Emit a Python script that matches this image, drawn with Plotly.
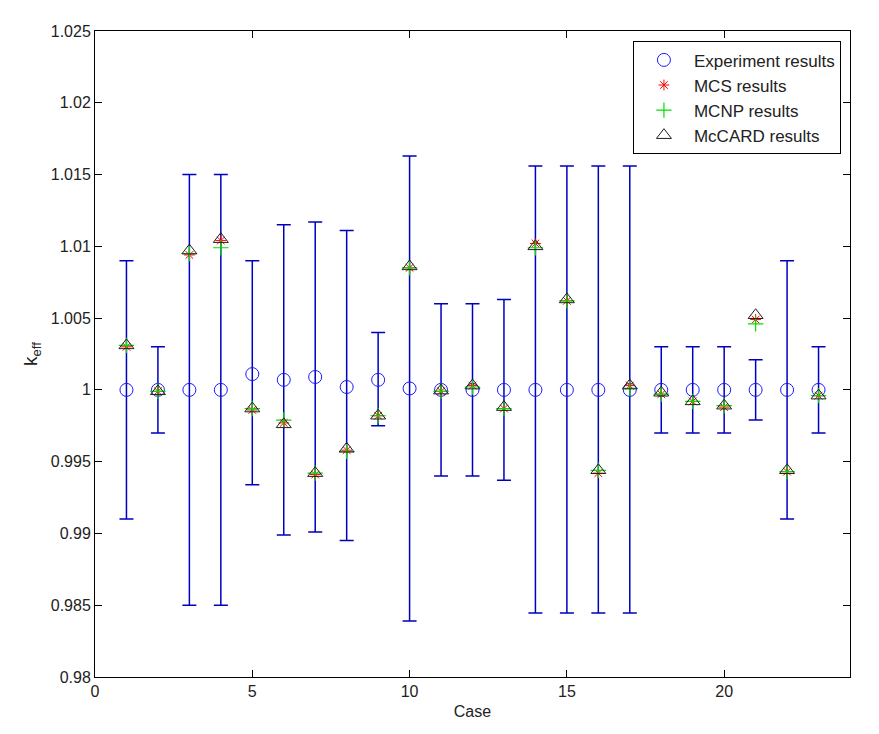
import plotly.graph_objects as go

cases = list(range(1, 24))
experiment = [1.0, 1.0, 1.0, 1.0, 1.0011, 1.0007, 1.0009, 1.0002, 1.0007, 1.0001,
              1.0, 1.0, 1.0, 1.0, 1.0, 1.0, 1.0, 1.0, 1.0, 1.0, 1.0, 1.0, 1.0]
exp_upper = [1.009, 1.003, 1.015, 1.015, 1.009, 1.0115, 1.0117, 1.0111, 1.0040, 1.0163,
             1.0060, 1.0060, 1.0063, 1.0156, 1.0156, 1.0156, 1.0156, 1.003, 1.003, 1.003,
             1.0021, 1.009, 1.003]
exp_lower = [0.991, 0.997, 0.985, 0.985, 0.9934, 0.9899, 0.9901, 0.9895, 0.9975, 0.9839,
             0.9940, 0.9940, 0.9937, 0.98445, 0.98445, 0.98445, 0.98445, 0.997, 0.997, 0.997,
             0.9979, 0.991, 0.997]
mcs = [1.0030, 0.9999, 1.0094, 1.0104, 0.9986, 0.9977, 0.9941, 0.9958, 0.9982, 1.0085,
       0.9999, 1.0003, 0.9987, 1.0102, 1.0062, 0.9942, 1.0003, 0.9997, 0.9992, 0.9988,
       1.0049, 0.9943, 0.9996]
mcnp = [1.0031, 0.9999, 1.0095, 1.0099, 0.9987, 0.9979, 0.9942, 0.9957, 0.9982, 1.0085,
        0.9999, 1.0002, 0.9987, 1.0099, 1.0062, 0.9944, 1.0001, 0.9997, 0.9992, 0.9989,
        1.0046, 0.9943, 0.9996]
mccard = [1.0031, 0.9999, 1.0097, 1.0105, 0.9987, 0.9976, 0.9942, 0.9959, 0.9982, 1.0086,
          0.99995, 1.0003, 0.9988, 1.0100, 1.0063, 0.9944, 1.0003, 0.9998, 0.9992, 0.9989,
          1.0052, 0.9944, 0.9996]

y_ticks = [0.98, 0.985, 0.99, 0.995, 1.0, 1.005, 1.01, 1.015, 1.02, 1.025]
y_tick_labels = ["0.98", "0.985", "0.99", "0.995", "1", "1.005", "1.01", "1.015", "1.02", "1.025"]
x_ticks = [0, 5, 10, 15, 20]
x_tick_labels = ["0", "5", "10", "15", "20"]

err_plus = [u - e for u, e in zip(exp_upper, experiment)]
err_minus = [e - l for l, e in zip(exp_lower, experiment)]

FONT = "Liberation Sans, Arial, sans-serif"

fig = go.Figure()
fig.add_trace(go.Scatter(
    x=cases, y=experiment, mode="markers", name="Experiment results",
    marker=dict(symbol="circle-open", size=13, color="#1a1aff", line=dict(width=1)),
    error_y=dict(type="data", symmetric=False, array=err_plus, arrayminus=err_minus,
                 color="#0000c0", thickness=1.5, width=7),
))
fig.add_trace(go.Scatter(
    x=cases, y=mcs, mode="markers", name="MCS results",
    marker=dict(symbol="asterisk-open", size=9, color="#ff0000", line=dict(width=1)),
))
fig.add_trace(go.Scatter(
    x=cases, y=mcnp, mode="markers", name="MCNP results",
    marker=dict(symbol="cross-thin-open", size=11, color="#00e000", line=dict(width=1.2)),
))
fig.add_trace(go.Scatter(
    x=cases, y=mccard, mode="markers", name="McCARD results",
    marker=dict(symbol="triangle-up-open", size=13, color="#202020", line=dict(width=1)),
))

axis_common = dict(
    showline=True, linecolor="black", linewidth=1, mirror="ticks",
    ticks="inside", ticklen=7, tickcolor="black", showgrid=False, zeroline=False,
    tickfont=dict(family=FONT, size=16, color="#222222"),
)

fig.update_layout(
    width=879, height=734,
    paper_bgcolor="white", plot_bgcolor="white",
    margin=dict(l=95, r=29, t=31, b=57),
    font=dict(family=FONT, size=16, color="#222222"),
    showlegend=True,
    legend=dict(
        x=0.988, y=0.984, xanchor="right", yanchor="top",
        bgcolor="white", bordercolor="black", borderwidth=1,
        font=dict(family=FONT, size=17, color="#222222"),
        itemwidth=50, tracegroupgap=0,
    ),
    xaxis=dict(range=[0, 24], tickvals=x_ticks, ticktext=x_tick_labels,
               title=dict(text="Case", font=dict(family=FONT, size=16), standoff=6),
               **axis_common),
    yaxis=dict(range=[0.98, 1.025], tickvals=y_ticks, ticktext=y_tick_labels,
               title=dict(text="k<sub>eff</sub>", font=dict(family=FONT, size=19), standoff=8),
               **axis_common),
)

fig.write_html("out.html", post_script="document.body.style.margin='0';",
               config={"displayModeBar": False})
